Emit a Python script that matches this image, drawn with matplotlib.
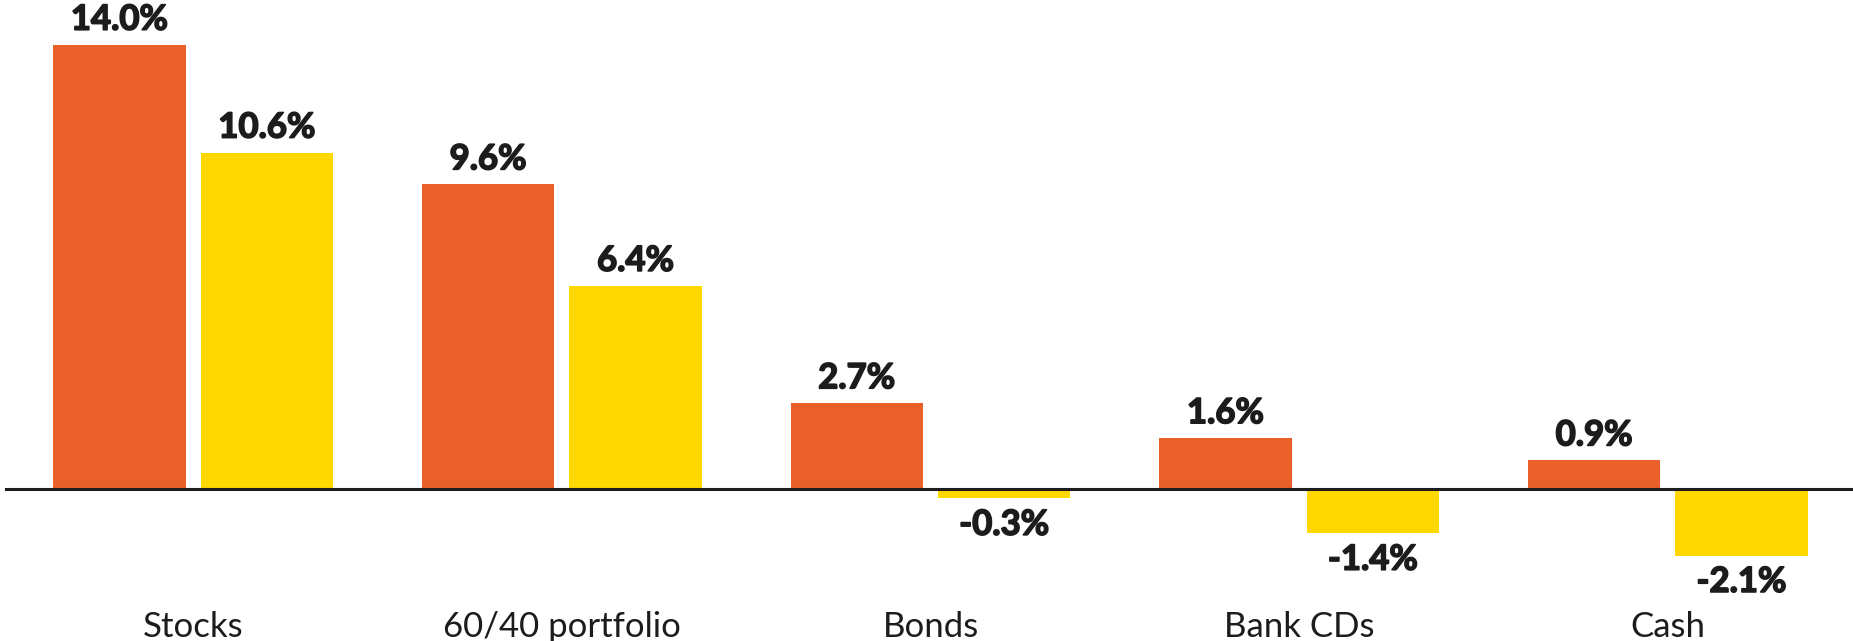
import numpy as np
import matplotlib
matplotlib.use("Agg")
import matplotlib.pyplot as plt
import matplotlib.patheffects as pe

categories = ["Stocks", "60/40 portfolio", "Bonds", "Bank CDs", "Cash"]
series_a = [14.0, 9.6, 2.7, 1.6, 0.9]
series_b = [10.6, 6.4, -0.3, -1.4, -2.1]

orange = "#EA602B"
yellow = "#FFD800"
ink = "#1c1c1c"

fig = plt.figure(figsize=(18.53, 6.41), dpi=100)
ax = fig.add_axes([0, 0.064, 1, 0.936])

x = np.arange(len(categories))
w = 0.359
off = 0.2

bars_a = ax.bar(x - off, series_a, width=w, color=orange, zorder=2)
bars_b = ax.bar(x + off, series_b, width=w, color=yellow, zorder=2)

# fake a heavier weight with a thin stroke
thick = [pe.withStroke(linewidth=1.2, foreground=ink)]
for bars in (bars_a, bars_b):
    for b in bars:
        v = b.get_height()
        dy = 18 if v >= 0 else -19
        ax.annotate(f"{v:.1f}%", (b.get_x() + b.get_width() / 2, v),
                    xytext=(0, dy), textcoords="offset points",
                    ha="center", va="center", fontsize=25,
                    fontweight="bold", family=["Lato", "DejaVu Sans"],
                    color=ink, path_effects=thick)

ax.axhline(0, xmin=0.003, xmax=1, color=ink, lw=2.2, zorder=3)

ax.set_xlim(-0.524, 4.502)
ax.set_ylim(-3.50, 15.41)
ax.set_xticks(x)
ax.set_xticklabels(categories, fontsize=25, color=ink, fontweight="normal",
                   family=["Lato", "DejaVu Sans"])
ax.tick_params(axis="x", length=0, pad=8)
ax.set_yticks([])
for s in ax.spines.values():
    s.set_visible(False)

fig.savefig("out.png", dpi=100, facecolor="white")
